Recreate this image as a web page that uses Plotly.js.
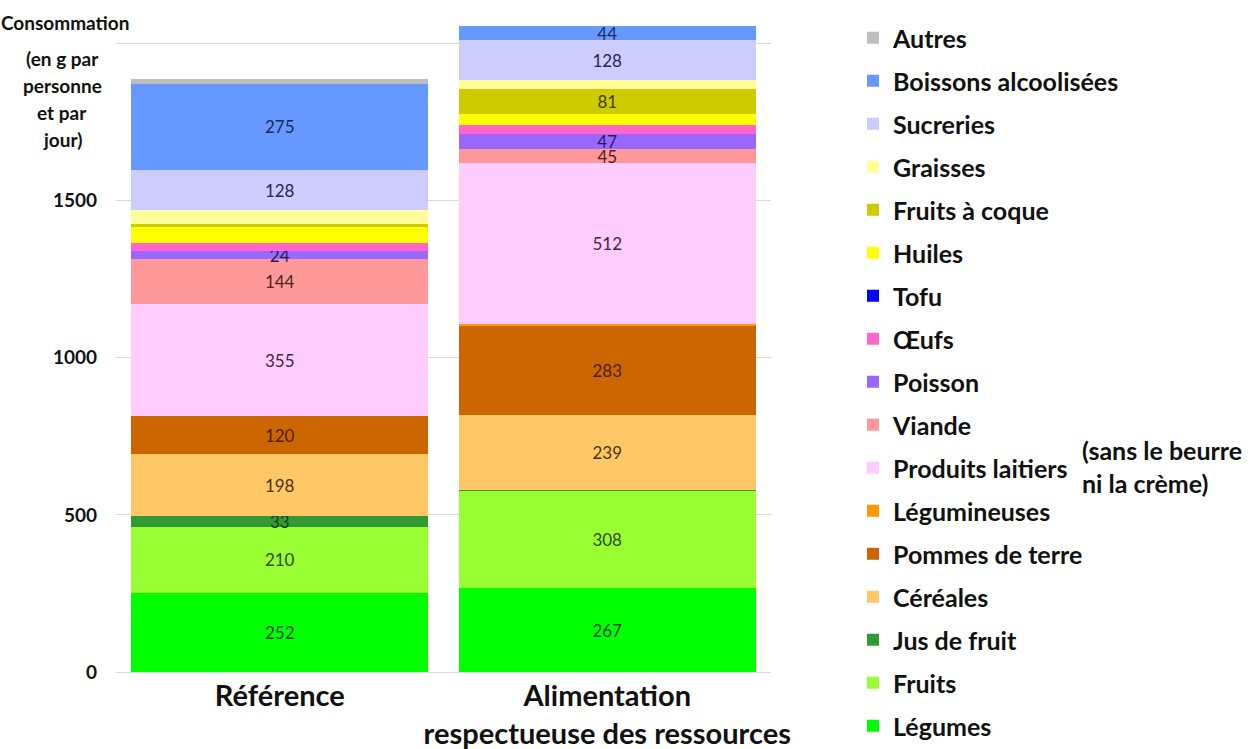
<!DOCTYPE html>
<html>
<head>
<meta charset="utf-8">
<script src="https://cdn.plot.ly/plotly-3.0.1.min.js"></script>
<style>html,body{margin:0;padding:0;background:#fff;}#chart{width:1250px;height:749px;}</style>
</head>
<body>
<div id="chart"></div>
<script>
// Categories (x axis)
const categories = ['Référence', 'Alimentation<br>respectueuse des ressources'];

// Series, bottom to top of the stack
const seriesNames = ['Légumes', 'Fruits', 'Jus de fruit', 'Céréales', 'Pommes de terre', 'Légumineuses',
  'Produits laitiers', 'Viande', 'Poisson', 'Œufs', 'Tofu', 'Huiles', 'Fruits à coque', 'Graisses',
  'Sucreries', 'Boissons alcoolisées', 'Autres'];

// Values in g per person per day
const valuesReference = [252, 210, 33, 198, 120, 2, 355, 144, 24, 28, 0, 50, 9, 44, 128, 275, 15];
const valuesAlimentation = [267, 308, 3, 239, 283, 7, 512, 45, 47, 28, 0, 35, 81, 28, 128, 44, 0];

// Which segments carry a data label
const labeledReference = [true, true, true, true, true, false, true, true, true, false, false, false, false, false, true, true, false];
const labeledAlimentation = [true, true, false, true, true, false, true, true, true, false, false, false, true, false, true, true, false];

const seriesColors = ['#00FF00', '#99FF33', '#339933', '#FFC766', '#CC6600', '#FF9900',
  '#FFCCFF', '#FF9999', '#9966FF', '#FF66CC', '#0000FF', '#FFFF00', '#CCCC00', '#FFFF99',
  '#CCCCFF', '#6699FF', '#BFBFBF'];
const labelColors = ['#1f4d1f', '#2f4d10', '#1a3d1a', '#4d3310', '#4d2200', '#4d2e00',
  '#3d2a3d', '#4d1f1f', '#2a1a5c', '#4d1a3d', '#00004d', '#4d4d00', '#3d3d00', '#4d4d2e',
  '#26264d', '#1a2a5c', '#333333'];

const yTickVals = [0, 500, 1000, 1500, 2000];
const yTickText = ['0', '500', '1000', '1500', ''];

const traces = seriesNames.map((name, i) => {
  const vals = [valuesReference[i], valuesAlimentation[i]];
  const flags = [labeledReference[i], labeledAlimentation[i]];
  return {
    type: 'bar',
    name: name,
    legendgroup: 'g' + i,
    legendrank: 100 - i,
    x: categories,
    y: vals,
    text: vals.map((v, k) => flags[k] ? String(v) : ''),
    textposition: 'inside',
    insidetextanchor: 'middle',
    textangle: 0,
    constraintext: 'none',
    textfont: {family: 'Lato, sans-serif', size: 17, color: labelColors[i]},
    marker: {color: seriesColors[i], line: {width: 0}},
    hoverinfo: 'name+y'
  };
});

// pixel helpers for annotations
const L = 116, R = 479, T = 22.5, B = 77, W = 1250, H = 749;
const pw = W - L - R, ph = H - T - B;
const px = x => (x - L) / pw;
const py = y => (H - B - y) / ph;

const titleFont = {family: 'Lato, sans-serif', size: 19, color: '#111'};
const titleLines = [['Consommation', 65, 22], ['(en g par', 62, 58], ['personne', 62, 85], ['et par', 62, 112], ['jour)', 62, 139]];
const annotations = titleLines.map(([t, x, y]) => ({
  text: '<b>' + t + '</b>', xref: 'paper', yref: 'paper', x: px(x), y: py(y),
  xanchor: 'center', yanchor: 'middle', showarrow: false, font: titleFont
}));
annotations.push({
  text: '<b>(sans le beurre<br>ni la crème)</b>', xref: 'paper', yref: 'paper',
  x: px(1080), y: py(466), xanchor: 'left', yanchor: 'middle', align: 'left', showarrow: false,
  font: {family: 'Lato, sans-serif', size: 25, color: '#111'}
});

const layout = {
  width: W, height: H,
  margin: {l: L, r: R, t: T, b: B, pad: 0},
  paper_bgcolor: '#fff', plot_bgcolor: '#fff',
  barmode: 'stack',
  bargap: 0.093,
  uniformtext: {mode: 'show', minsize: 17},
  font: {family: 'Lato, sans-serif', color: '#111'},
  xaxis: {
    tickfont: {family: 'Lato, sans-serif', size: 29, color: '#111', weight: 'bold'},
    showgrid: false, zeroline: false, showline: false, ticks: '',
    ticklabelstandoff: 4,
    fixedrange: true
  },
  yaxis: {
    range: [0, 2065],
    tickvals: yTickVals, ticktext: yTickText,
    tickfont: {family: 'Lato, sans-serif', size: 19, color: '#111', weight: 'bold'},
    showgrid: true, gridcolor: '#d9d9d9', gridwidth: 1,
    zeroline: true, zerolinecolor: '#d9d9d9', zerolinewidth: 1,
    showline: false, ticks: '', ticklabelstandoff: 18,
    fixedrange: true
  },
  showlegend: true,
  legend: {
    x: px(853), y: py(16), xanchor: 'left', yanchor: 'top',
    traceorder: 'grouped', tracegroupgap: 7.5,
    maxheight: 760,
    font: {family: 'Lato, sans-serif', size: 25, color: '#111', weight: 'bold'},
    itemwidth: 30, bgcolor: 'rgba(0,0,0,0)'
  },
  annotations: annotations
};

Plotly.newPlot('chart', traces, layout, {staticPlot: true, displayModeBar: false});
</script>
</body>
</html>
